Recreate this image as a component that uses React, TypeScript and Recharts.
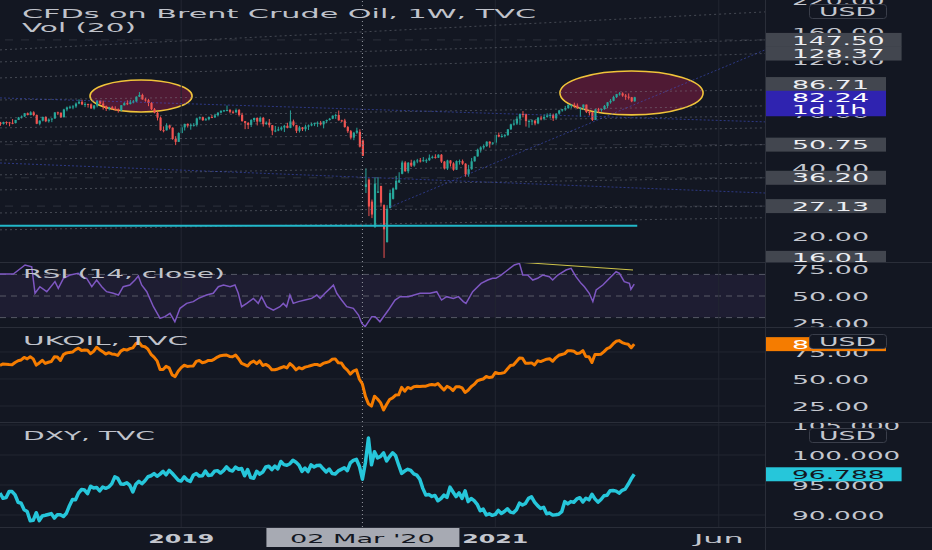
import React from 'react';
import { ComposedChart, Bar, Line, XAxis, YAxis, ReferenceLine, ReferenceArea } from 'recharts';

// ---------- data (weekly, index 0 = week of 13 Nov 2017) ----------
const brentOpen = [
  63.5, 62.7, 63.9, 63.7, 63.4, 63.2, 65.3, 66.9, 67.6, 69.9,
  68.6, 70.5, 68.6, 62.8, 64.8, 67.3, 64.4, 65.5, 66.2, 70.5,
  70.3, 67.1, 72.6, 74.1, 74.6, 74.9, 77.1, 78.5, 76.4, 76.8,
  76.5, 73.4, 75.6, 79.4, 77.1, 75.3, 73.1, 74.3, 73.2, 72.8,
  71.8, 75.8, 77.4, 76.8, 78.1, 78.8, 82.7, 84.2, 80.4, 79.8,
  77.6, 72.8, 70.2, 66.8, 58.8, 58.7, 61.7, 60.3, 53.8, 52.2,
  57.1, 60.5, 62.7, 61.6, 61.9, 62.1, 66.3, 67.1, 65.1, 65.7,
  67.2, 67.0, 68.4, 70.3, 71.6, 72.0, 72.2, 70.9, 70.6, 72.2,
  68.7, 64.5, 63.3, 62.0, 65.2, 66.6, 64.2, 66.7, 62.5, 63.5,
  61.9, 58.5, 58.6, 59.3, 60.4, 61.5, 60.2, 64.3, 61.9, 58.4,
  60.5, 59.4, 61.0, 61.7, 62.5, 63.3, 63.4, 62.4, 64.4, 65.2,
  66.1, 68.2, 68.6, 65.0, 64.9, 60.7, 58.2, 54.5, 57.3, 57.8,
  52.9, 33.0, 35.5, 28.4, 22.0, 31.1, 33.3, 27.4, 18.8, 26.6,
  29.2, 32.2, 34.5, 37.7, 42.3, 38.7, 42.2, 41.0, 42.8, 43.2,
  43.1, 43.3, 43.3, 44.4, 44.8, 44.4, 45.8, 42.7, 39.8, 43.2,
  41.9, 39.3, 42.9, 42.9, 41.8, 37.5, 39.5, 42.8, 45.0, 48.2,
  49.3, 50.0, 52.3, 51.3, 51.8, 56.0, 55.1, 55.4, 55.9, 59.3,
  62.4, 62.9, 66.1, 69.4, 69.2, 64.5, 64.6, 64.9, 63.0, 66.8,
  66.1, 67.3, 68.3, 68.7, 66.4, 69.6, 71.9, 72.7, 73.5, 76.2,
  76.2, 75.6, 73.6, 74.1, 76.3, 70.7, 70.6, 65.2, 72.7, 72.6,
  72.9, 75.3, 78.1, 79.3, 82.4, 84.9, 85.5, 83.7, 82.7, 82.2,
  78.9,
];
const brentHigh = [
  64.0, 64.1, 64.3, 64.0, 65.8, 65.3, 67.3, 68.3, 70.1, 70.4,
  71.3, 71.3, 69.0, 65.0, 67.5, 67.7, 66.3, 66.4, 70.6, 71.0,
  70.3, 73.1, 74.8, 75.5, 75.9, 78.0, 80.5, 80.2, 78.2, 77.0,
  77.2, 76.0, 79.7, 79.5, 79.4, 75.5, 74.6, 75.3, 75.0, 73.4,
  75.9, 78.2, 79.7, 80.1, 80.0, 83.0, 86.7, 85.3, 81.8, 80.9,
  78.2, 73.7, 71.3, 67.6, 61.1, 63.1, 62.2, 60.5, 55.3, 57.5,
  61.9, 62.8, 63.0, 63.0, 63.2, 66.8, 67.6, 67.5, 66.6, 67.6,
  68.7, 69.5, 70.6, 72.0, 72.3, 75.6, 73.0, 71.9, 73.3, 73.0,
  70.2, 64.6, 63.9, 65.8, 66.8, 67.0, 67.6, 67.3, 64.3, 65.9,
  62.0, 61.4, 60.9, 61.2, 62.1, 63.4, 71.9, 65.5, 62.1, 61.4,
  60.7, 62.2, 62.3, 63.5, 63.5, 64.3, 64.6, 64.6, 65.5, 66.6,
  68.3, 69.5, 71.8, 65.4, 66.0, 61.4, 58.9, 57.8, 60.3, 59.3,
  53.5, 39.8, 36.0, 29.0, 36.4, 36.4, 33.4, 27.6, 27.4, 32.1,
  32.8, 36.9, 38.3, 43.1, 42.9, 42.5, 43.5, 43.3, 43.9, 44.3,
  44.7, 44.0, 45.9, 45.4, 46.0, 46.0, 46.1, 42.9, 43.5, 43.3,
  42.4, 43.2, 43.6, 43.6, 42.0, 41.3, 44.3, 45.0, 48.7, 49.9,
  50.9, 52.5, 52.5, 52.0, 56.3, 57.4, 56.6, 56.5, 59.5, 62.8,
  65.5, 67.7, 69.6, 71.4, 69.6, 65.5, 65.5, 64.9, 67.2, 68.1,
  69.0, 69.8, 70.0, 69.6, 69.9, 72.3, 72.9, 75.3, 76.4, 76.4,
  77.8, 77.2, 74.3, 76.4, 76.3, 72.2, 70.9, 72.8, 73.8, 73.1,
  76.0, 78.2, 80.8, 83.5, 85.1, 86.7, 86.5, 85.0, 85.5, 82.5,
  82.6,
];
const brentLow = [
  61.5, 62.3, 62.2, 61.2, 62.5, 63.0, 65.2, 66.2, 67.3, 68.4,
  68.4, 67.8, 62.5, 61.8, 64.3, 63.8, 63.5, 63.8, 66.1, 68.6,
  66.6, 67.0, 71.3, 73.0, 72.8, 73.8, 76.6, 75.9, 74.4, 74.0,
  73.1, 72.6, 74.2, 76.7, 72.5, 71.5, 71.9, 72.4, 71.6, 70.3,
  71.3, 75.6, 75.9, 76.4, 77.3, 78.3, 82.4, 80.2, 78.6, 75.1,
  72.2, 69.8, 64.9, 58.4, 57.5, 58.6, 59.3, 53.3, 50.5, 52.1,
  57.0, 58.6, 60.4, 59.1, 61.0, 61.0, 65.4, 64.6, 64.8, 65.0,
  66.6, 66.6, 67.6, 69.7, 70.8, 71.3, 69.8, 69.5, 70.0, 67.6,
  64.1, 59.4, 59.5, 60.7, 63.9, 61.7, 63.7, 61.0, 62.1, 60.4,
  55.9, 57.6, 58.2, 58.5, 57.7, 59.9, 60.0, 61.1, 57.1, 57.4,
  58.3, 58.1, 58.9, 61.2, 61.3, 60.8, 61.7, 59.9, 63.2, 64.9,
  65.8, 66.0, 64.8, 63.9, 60.3, 57.2, 53.5, 53.1, 56.6, 49.3,
  45.2, 31.0, 24.5, 24.0, 21.7, 31.0, 27.0, 16.0, 18.7, 26.5,
  29.0, 32.0, 34.4, 37.5, 38.5, 37.9, 40.4, 40.5, 42.0, 42.3,
  42.6, 42.1, 43.0, 44.0, 44.0, 44.3, 42.1, 39.4, 39.2, 40.6,
  38.9, 39.2, 41.4, 41.3, 36.6, 36.6, 39.3, 42.7, 44.9, 46.8,
  48.3, 49.6, 49.2, 50.6, 50.4, 54.7, 54.5, 54.6, 55.5, 59.0,
  61.6, 62.0, 62.0, 67.0, 61.0, 60.3, 61.9, 61.8, 62.5, 65.0,
  65.1, 66.8, 66.3, 64.6, 65.6, 68.9, 71.0, 71.6, 73.3, 73.5,
  73.6, 72.9, 67.4, 72.2, 70.0, 68.3, 64.6, 65.2, 70.3, 71.0,
  72.4, 73.5, 77.0, 78.9, 81.6, 83.6, 82.6, 80.1, 80.3, 78.2,
  78.6,
];
const brentClose = [
  62.7, 63.9, 63.7, 63.4, 63.2, 65.3, 66.9, 67.6, 69.9, 68.6,
  70.5, 68.6, 62.8, 64.8, 67.3, 64.4, 65.5, 66.2, 70.5, 70.3,
  67.1, 72.6, 74.1, 74.6, 74.9, 77.1, 78.5, 76.4, 76.8, 76.5,
  73.4, 75.6, 79.4, 77.1, 75.3, 73.1, 74.3, 73.2, 72.8, 71.8,
  75.8, 77.4, 76.8, 78.1, 78.8, 82.7, 84.2, 80.4, 79.8, 77.6,
  72.8, 70.2, 66.8, 58.8, 58.7, 61.7, 60.3, 53.8, 52.2, 57.1,
  60.5, 62.7, 61.6, 61.9, 62.1, 66.3, 67.1, 65.1, 65.7, 67.2,
  67.0, 68.4, 70.3, 71.6, 72.0, 72.2, 70.9, 70.6, 72.2, 68.7,
  64.5, 63.3, 62.0, 65.2, 66.6, 64.2, 66.7, 62.5, 63.5, 61.9,
  58.5, 58.6, 59.3, 60.4, 61.5, 60.2, 64.3, 61.9, 58.4, 60.5,
  59.4, 61.0, 61.7, 62.5, 63.3, 63.4, 62.4, 64.4, 65.2, 66.1,
  68.2, 68.6, 65.0, 64.9, 60.7, 58.2, 54.5, 57.3, 58.5, 49.7,
  45.3, 33.9, 27.0, 24.9, 34.1, 31.5, 28.1, 21.4, 26.4, 31.0,
  32.5, 35.1, 35.3, 42.3, 38.7, 42.2, 41.0, 42.8, 43.2, 43.1,
  43.3, 43.3, 44.4, 44.8, 44.4, 45.8, 42.7, 39.8, 43.2, 41.9,
  39.3, 42.9, 42.9, 41.8, 37.5, 39.5, 42.8, 45.0, 48.2, 49.3,
  50.0, 52.3, 51.3, 51.8, 56.0, 55.1, 55.4, 55.9, 59.3, 62.4,
  62.9, 66.1, 69.4, 69.2, 64.5, 64.6, 64.9, 63.0, 66.8, 66.1,
  67.3, 68.3, 68.7, 66.4, 69.6, 71.9, 72.7, 73.5, 76.2, 76.2,
  75.6, 73.6, 74.1, 76.3, 70.7, 70.6, 65.2, 72.7, 72.6, 72.9,
  75.3, 78.1, 79.3, 82.4, 84.9, 85.5, 83.7, 82.7, 82.2, 78.9,
  82.24,
];
const dxyClose = [
  93.65, 92.78, 92.89, 93.90, 93.91, 93.34, 92.12, 91.96, 90.87, 90.59,
  89.05, 89.12, 90.38, 89.06, 89.84, 89.95, 90.09, 90.23, 89.49, 90.06,
  90.04, 89.76, 90.30, 91.55, 92.57, 92.54, 93.67, 94.25, 94.16, 93.55,
  94.80, 94.49, 94.60, 94.00, 94.67, 94.44, 94.67, 95.19, 96.36, 96.11,
  95.16, 95.14, 95.38, 94.93, 93.85, 95.13, 95.62, 95.21, 95.71, 96.38,
  96.54, 96.91, 96.46, 96.81, 97.27, 96.70, 97.44, 96.96, 96.39, 95.80,
  95.65, 96.36, 95.80, 95.59, 96.63, 96.91, 96.48, 96.53, 97.33, 96.60,
  96.66, 97.28, 97.39, 96.99, 97.39, 98.02, 97.49, 97.33, 97.99, 97.62,
  97.75, 96.54, 97.57, 96.23, 96.13, 97.29, 96.81, 97.16, 98.00, 98.13,
  97.56, 98.15, 97.68, 98.92, 98.40, 98.30, 98.55, 99.12, 98.81, 98.30,
  97.27, 97.83, 97.24, 98.36, 98.01, 98.27, 98.28, 97.70, 97.18, 97.66,
  96.92, 96.84, 97.35, 97.61, 97.87, 97.39, 98.68, 99.10, 99.28, 98.13,
  95.97, 98.74, 102.82, 98.36, 100.54, 99.52, 99.77, 100.35, 99.02, 99.74,
  100.37, 99.86, 98.34, 96.94, 97.33, 97.62, 97.43, 96.86, 96.64, 95.97,
  94.44, 93.35, 93.43, 93.09, 93.26, 92.37, 92.73, 93.33, 92.93, 94.64,
  93.84, 93.06, 93.69, 92.77, 94.03, 92.23, 92.75, 92.39, 91.79, 90.70,
  90.98, 90.02, 90.20, 89.94, 90.10, 90.77, 90.24, 90.58, 91.04, 90.48,
  90.36, 90.88, 91.98, 91.67, 91.92, 92.77, 93.02, 92.16, 91.56, 91.09,
  91.28, 90.22, 90.32, 89.98, 90.03, 90.13, 90.55, 92.23, 91.85, 92.23,
  92.12, 92.67, 92.88, 92.17, 92.80, 92.53, 93.46, 92.68, 92.14, 92.58,
  93.21, 93.29, 94.04, 94.08, 93.98, 93.64, 94.12, 94.32, 95.12, 96.03,
  96.788,
];
const rsiWeek = [
  0, 4.4, 8.3, 10.5, 11.6, 13.2, 15.5, 18.2, 19.3, 21,
  23.2, 25.9, 27, 28.7, 30.4, 32, 33.7, 35.3, 37.5, 39.2,
  40.8, 43, 44.7, 45.8, 46.9, 48.6, 50.8, 53, 54.6, 56.3,
  57.9, 59.6, 61.8, 64, 65.7, 68.4, 70.6, 72.3, 74, 76.2,
  77.8, 78.9, 80, 81.7, 83.9, 85.5, 86.6, 88.3, 90.5, 92.7,
  93.8, 94.9, 96, 97.1, 98.8, 101, 103.2, 104.9, 106, 107.6,
  109.3, 110.4, 111.5, 113.1, 114.8, 117, 118.7, 119.8, 120.9, 123.1,
  124.2, 125.8, 128.6, 130.8, 132.5, 135.2, 139.1, 142.4, 144.6, 146.2,
  147.9, 150.1, 151.8, 153.4, 154.3, 156.5, 159.3, 161.5, 163.1, 164.2,
  165.9, 168.1, 170.3, 172, 173.1, 174.7, 176.4, 178, 179.7, 181.9,
  183, 184.7, 187.4, 189.1, 190.7, 192.4, 193.5, 195.1, 196.3, 197.4,
  199.6, 201.8, 204, 205.1, 206.7, 208.4, 208.9, 210,
];
const rsiValue = [
  70.4, 70.4, 78.7, 77, 52.5, 58.6, 54, 63.3, 57.1, 66.4,
  69.4, 71, 67.9, 66.4, 58.6, 64.8, 58.6, 54, 52.5, 50.9,
  58.6, 60.2, 64.8, 68.5, 60.2, 54, 40.1, 29.3, 30.9, 34,
  26.2, 38.6, 43.2, 44.8, 47.8, 50.9, 52.5, 58.6, 60.2, 58.6,
  60.2, 52.5, 40.1, 43.2, 47.8, 43.2, 49.4, 40.1, 37, 40.1,
  43.2, 40.1, 50.9, 43.2, 44.8, 46.3, 47.8, 50.9, 47.8, 52.5,
  57.1, 60.2, 52.5, 46.3, 40.1, 38.6, 32.4, 24.7, 21.6, 30.9,
  30.9, 26.2, 37, 46.3, 49.4, 49.4, 52.5, 52.5, 54, 46.3,
  49.4, 47.8, 49.4, 44.8, 43.2, 54, 61.7, 64.8, 66.4, 66.4,
  69.4, 74.1, 78.7, 80.2, 69.4, 69.4, 64.8, 66.4, 69.4, 67.9,
  64.8, 69.4, 74.1, 75.6, 67.9, 61.7, 58.6, 52.5, 44.8, 55.6,
  60.2, 66.4, 72.5, 71, 63.3, 61.7, 56.2, 61.1,
];

// time axis
const xTickWeeks = [60, 120, 164, 238];
const xTickLabels = ['2019', "02 Mar '20", '2021', 'Jun'];
const crosshairWeek = 120;

// price-axis labels
const mainAxisTicks = [220, 160, 120, 70, 40, 20];
const mainLevelTicks = [147.5, 128.37, 86.71, 50.75, 36.2, 27.13, 16.01];
const brentLast = 82.24;
const rsiTicks = [75, 50, 25];
const rsiBands = [70, 50, 30];
const ukoilTicks = [75, 50, 25];
const dxyTicks = [105, 100, 95, 90];
const dxyLast = 96.788;

// drawings (price anchors)
const fanLeft = [133.2, 117.9, 100.1, 80.0, 66.6, 60.2, 52.2, 43.4, 37.3, 32.0, 25.3, 21.3];
const fanRight = [196.2, 147.5, 128.4, 88.6, 75.3, 68.0, 60.2, 50.75, 42.1, 36.2, 27.13, 24.1];
const blueLines = [
  [0, 81.7, 253.3, 64.0],
  [0, 42.1, 253.3, 31.0],
  [129.1, 26.9, 253.3, 133.2],
];
const levelLines = [147.5, 50.75, 36.2, 27.13];
const supportLevel = 22.2;
const supportEndWeek = 211;
const ellipses = [
  [29.8, 63.6, 70.8, 98.0],
  [185.4, 232.8, 68.7, 107.5],
];
const rsiTrend = [170.9, 81.5, 209.6, 74.1];

// ---------- layout / style ----------
const FONT = "'DejaVu Sans', 'Liberation Sans', sans-serif";
const BG = '#131722';
const W = 932;
const AXIS_W = 167;
const AXIS_X = W - AXIS_W;
const X_MAX = 253.3;
const MAIN_H = 262;
const RSI_H = 65;
const UK_H = 95;
const DXY_H = 105;
const XAX_H = 23;
const GRID = '#222631';
const AXIS_TEXT = '#c4c7cf';
const M = { top: 0, right: 0, bottom: 0, left: 0 };

const candleRows = brentClose.map((c, i) => ({
  i, o: brentOpen[i], h: brentHigh[i], l: brentLow[i], c, hl: [brentLow[i], brentHigh[i]],
}));
const dxyRows = dxyClose.map((v, i) => ({ i, v }));
const rsiRows = rsiWeek.map((w, k) => ({ i: w, v: rsiValue[k] }));

const STxt = (p: any) => (
  <text
    x={p.x}
    y={p.y}
    textLength={p.w}
    lengthAdjust="spacingAndGlyphs"
    fontFamily={FONT}
    fontSize={p.size || 13}
    fontWeight={p.weight || 400}
    fill={p.fill}
    textAnchor={p.anchor || 'start'}
  >
    {p.children}
  </text>
);

type BoxSpec = { fill: string; color: string; sub?: string; lift?: number };

const makeTick = (digits: number, boxes: Map<number, BoxSpec>) => (props: any) => {
  const { y, payload } = props;
  const v = payload.value as number;
  const label = v.toFixed(digits);
  const tw = label.length * 15.6 - 1;
  const box = boxes.get(v);
  if (!box) {
    return (
      <STxt x={AXIS_X + 27} y={y + 4.6} w={tw} fill={AXIS_TEXT}>
        {label}
      </STxt>
    );
  }
  const cy = y + (box.lift || 0);
  const bw = 27 + tw + 17;
  return (
    <g>
      <rect x={AXIS_X} y={box.sub ? cy - 6.5 : cy - 7} width={bw} height={box.sub ? 25.5 : 14} fill={box.fill} />
      <STxt x={AXIS_X + 27} y={cy + 4.6} w={tw} fill={box.color}>
        {label}
      </STxt>
      {box.sub ? (
        <STxt x={AXIS_X + 27} y={cy + 16.6} w={75} fill={box.color}>
          {box.sub}
        </STxt>
      ) : null}
    </g>
  );
};

const LEVEL_BOX: BoxSpec = { fill: '#42464f', color: '#eceef2' };
const mainBoxes = new Map<number, BoxSpec>();
mainLevelTicks.forEach((v) => mainBoxes.set(v, v === 86.71 ? { ...LEVEL_BOX, lift: -8 } : LEVEL_BOX));
mainBoxes.set(brentLast, { fill: '#2f23b0', color: '#ffffff', sub: '1d 1h' });
const mainTick = makeTick(2, mainBoxes);
const rsiTick = makeTick(2, new Map());
const ukBoxes = new Map<number, BoxSpec>();
ukBoxes.set(brentLast, { fill: '#f57c00', color: '#ffffff' });
const ukTick = makeTick(2, ukBoxes);
const dxyBoxes = new Map<number, BoxSpec>();
dxyBoxes.set(dxyLast, { fill: '#26c6da', color: BG });
const dxyTick = makeTick(3, dxyBoxes);

const Candle = (props: any) => {
  const { x, y, width, height, payload } = props;
  if (!payload || !isFinite(y) || !isFinite(height)) return null;
  const { o, h, l, c } = payload;
  const lh = Math.log(h);
  const ll = Math.log(l);
  const py = (v: number) => (lh === ll ? y : y + (height * (lh - Math.log(v))) / (lh - ll));
  const color = c >= o ? '#26a69a' : '#ef5350';
  const cx = x + width / 2;
  const top = py(Math.max(o, c));
  const bot = py(Math.min(o, c));
  return (
    <g>
      <line x1={cx} x2={cx} y1={y} y2={y + height} stroke={color} strokeWidth={1} />
      <rect x={cx - 1.1} y={top} width={2.2} height={Math.max(1, bot - top)} fill={color} />
    </g>
  );
};

const EllipseShape = (p: any) => (
  <ellipse
    cx={p.x + p.width / 2}
    cy={p.y + p.height / 2}
    rx={Math.abs(p.width) / 2}
    ry={Math.abs(p.height) / 2}
    fill="#8b1d46"
    fillOpacity={0.5}
    stroke="#f0c43a"
    strokeWidth={1.6}
  />
);

const XTick = (props: any) => {
  const { x, payload } = props;
  const idx = xTickWeeks.indexOf(payload.value);
  const label = xTickLabels[idx];
  const base = DXY_H + 16;
  if (payload.value === crosshairWeek) {
    return (
      <g>
        <rect x={x - 96} y={DXY_H} width={193} height={20} fill="#a7aab3" />
        <STxt x={x} y={base} w={145} fill={BG} anchor="middle">
          {label}
        </STxt>
      </g>
    );
  }
  const isYear = /^\d{4}$/.test(label);
  return (
    <STxt x={x} y={base} w={label.length * 16.5} fill={AXIS_TEXT} anchor="middle" weight={isYear ? 700 : 400}>
      {label}
    </STxt>
  );
};

const gridWeeks = [60, 164, 238];

const vGrid = () => gridWeeks.map((w) => <ReferenceLine key={'g' + w} x={w} stroke={GRID} />);
const crosshair = () => (
  <ReferenceLine x={crosshairWeek} stroke="#9598a1" strokeDasharray="1 3" strokeWidth={1} />
);

const Badge = ({ y }: { y: number }) => (
  <g>
    <rect x={809.5} y={y + 0.5} width={77} height={14} rx={3} fill={BG} stroke="#3a3e4a" />
    <STxt x={819} y={y + 12} w={57} fill={AXIS_TEXT}>
      USD
    </STxt>
  </g>
);

export default function App() {
  const pane = (top: number, h: number): React.CSSProperties => ({ position: 'absolute', left: 0, top, width: W, height: h });
  return (
    <div style={{ position: 'absolute', left: 0, top: 0, width: W, height: 550, background: BG, overflow: 'hidden' }}>
      {/* main candlestick pane */}
      <div style={pane(0, MAIN_H)}>
        <ComposedChart width={W} height={MAIN_H} data={candleRows} margin={M}>
          <XAxis dataKey="i" type="number" domain={[0, X_MAX]} allowDataOverflow hide />
          <YAxis
            orientation="right"
            width={AXIS_W}
            scale="log"
            domain={[15.35, 221.5]}
            allowDataOverflow
            ticks={[...mainAxisTicks, ...mainLevelTicks, brentLast]}
            interval={0}
            tick={mainTick}
            tickLine={false}
            axisLine={false}
          />
          {vGrid()}
          {levelLines.map((v) => (
            <ReferenceLine key={'lv' + v} y={v} stroke="#6d717c" strokeOpacity={0.3} strokeDasharray="8 8" />
          ))}
          {fanLeft.map((a, k) => (
            <ReferenceLine
              key={'f' + k}
              segment={[{ x: 0, y: a }, { x: X_MAX, y: fanRight[k] }]}
              stroke="#80848e"
              strokeOpacity={0.45}
              strokeDasharray="2 3"
              ifOverflow="hidden"
            />
          ))}
          {blueLines.map((b, k) => (
            <ReferenceLine
              key={'b' + k}
              segment={[{ x: b[0], y: b[1] }, { x: b[2], y: b[3] }]}
              stroke="#3d4fc4"
              strokeOpacity={0.6}
              strokeDasharray="2 2"
              ifOverflow="hidden"
            />
          ))}
          {ellipses.map((e, k) => (
            <ReferenceArea key={'e' + k} x1={e[0]} x2={e[1]} y1={e[2]} y2={e[3]} shape={EllipseShape} ifOverflow="visible" />
          ))}
          <ReferenceLine
            segment={[{ x: 0, y: supportLevel }, { x: supportEndWeek, y: supportLevel }]}
            stroke="#22b8c9"
            strokeWidth={2}
            ifOverflow="hidden"
          />
          {crosshair()}
          <Bar dataKey="hl" barSize={2} shape={Candle} isAnimationActive={false} />
        </ComposedChart>
      </div>

      {/* RSI pane */}
      <div style={pane(MAIN_H, RSI_H)}>
        <ComposedChart width={W} height={RSI_H} data={rsiRows} margin={M}>
          <XAxis dataKey="i" type="number" domain={[0, X_MAX]} allowDataOverflow hide />
          <YAxis
            orientation="right"
            width={AXIS_W}
            domain={[21.3, 81.5]}
            allowDataOverflow
            ticks={rsiTicks}
            interval={0}
            tick={rsiTick}
            tickLine={false}
            axisLine={false}
          />
          <ReferenceArea y1={30} y2={70} fill="#7e57c2" fillOpacity={0.1} />
          {rsiBands.map((b) => (
            <ReferenceLine key={'r' + b} y={b} stroke="#787b86" strokeOpacity={0.65} strokeDasharray="6 5" />
          ))}
          {vGrid()}
          {crosshair()}
          <Line type="linear" dataKey="v" stroke="#7e57c2" strokeWidth={1.5} dot={false} isAnimationActive={false} />
          <ReferenceLine
            segment={[{ x: rsiTrend[0], y: rsiTrend[1] }, { x: rsiTrend[2], y: rsiTrend[3] }]}
            stroke="#cfc44a"
            strokeWidth={1}
            ifOverflow="hidden"
          />
        </ComposedChart>
      </div>

      {/* UKOIL pane */}
      <div style={pane(MAIN_H + RSI_H, UK_H)}>
        <ComposedChart width={W} height={UK_H} data={candleRows} margin={M}>
          <XAxis dataKey="i" type="number" domain={[0, X_MAX]} allowDataOverflow hide />
          <YAxis
            orientation="right"
            width={AXIS_W}
            domain={[10.2, 98.1]}
            allowDataOverflow
            ticks={[...ukoilTicks, brentLast]}
            interval={0}
            tick={ukTick}
            tickLine={false}
            axisLine={false}
          />
          {ukoilTicks.map((t) => (
            <ReferenceLine key={'u' + t} y={t} stroke={GRID} />
          ))}
          {vGrid()}
          {crosshair()}
          <Line type="linear" dataKey="c" stroke="#f57c00" strokeWidth={3} strokeLinejoin="round" dot={false} isAnimationActive={false} />
        </ComposedChart>
      </div>

      {/* DXY pane + time axis */}
      <div style={pane(MAIN_H + RSI_H + UK_H, DXY_H + XAX_H)}>
        <ComposedChart width={W} height={DXY_H + XAX_H} data={dxyRows} margin={M}>
          <XAxis
            dataKey="i"
            type="number"
            domain={[0, X_MAX]}
            allowDataOverflow
            height={XAX_H}
            ticks={xTickWeeks}
            interval={0}
            tick={XTick}
            tickLine={false}
            axisLine={false}
          />
          <YAxis
            orientation="right"
            width={AXIS_W}
            domain={[88, 105.5]}
            allowDataOverflow
            ticks={[...dxyTicks, dxyLast]}
            interval={0}
            tick={dxyTick}
            tickLine={false}
            axisLine={false}
          />
          {dxyTicks.map((t) => (
            <ReferenceLine key={'d' + t} y={t} stroke={GRID} />
          ))}
          {vGrid()}
          {crosshair()}
          <Line type="linear" dataKey="v" stroke="#26c6da" strokeWidth={3.5} strokeLinejoin="round" dot={false} isAnimationActive={false} />
        </ComposedChart>
      </div>

      {/* pane frames, titles and currency badges */}
      <svg width={W} height={550} style={{ position: 'absolute', left: 0, top: 0, pointerEvents: 'none' }}>
        {[MAIN_H, MAIN_H + RSI_H, MAIN_H + RSI_H + UK_H, MAIN_H + RSI_H + UK_H + DXY_H].map((y) => (
          <line key={'s' + y} x1={0} x2={W} y1={y + 0.5} y2={y + 0.5} stroke="#2a2e39" />
        ))}
        <line x1={AXIS_X + 0.5} x2={AXIS_X + 0.5} y1={0} y2={550} stroke="#2a2e39" />
        <STxt x={22} y={17.5} w={514} fill="#c0c3cb">CFDs on Brent Crude Oil, 1W, TVC</STxt>
        <STxt x={22} y={31.5} w={114} fill="#c0c3cb">Vol (20)</STxt>
        <STxt x={23} y={277.5} w={202} fill="#c0c3cb">RSI (14, close)</STxt>
        <STxt x={23} y={344.5} w={165} fill="#c0c3cb">UKOIL, TVC</STxt>
        <STxt x={23} y={439.5} w={132} fill="#c0c3cb">DXY, TVC</STxt>
        <Badge y={4} />
        <Badge y={334} />
        <Badge y={428} />
      </svg>
    </div>
  );
}
